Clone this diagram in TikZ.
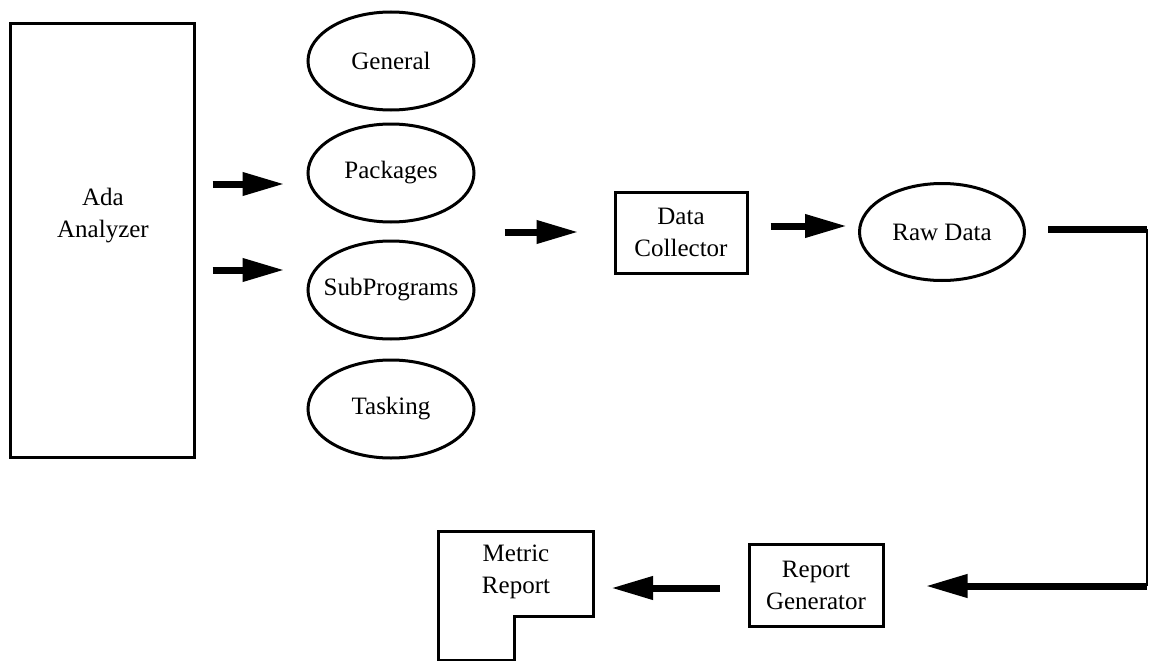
\documentclass[tikz,border=0pt]{standalone}
\usepackage{fontspec}
\setmainfont{Liberation Serif}
\usetikzlibrary{shapes.geometric,arrows.meta}
\begin{document}
\begin{tikzpicture}[x=1pt,y=-1pt,
  every node/.style={font=\fontsize{25}{32}\selectfont, align=center},
  boxnode/.style={draw, line width=3pt, inner sep=0pt},
  ell/.style={draw, ellipse, line width=3pt, inner ysep=0pt, inner xsep=-14pt, minimum width=166pt, minimum height=98pt},
  bigarrow/.style={line width=7pt, -{Triangle[length=42pt,width=22pt]}},
  thickline/.style={line width=7pt},
  thinline/.style={line width=2pt}]
\useasboundingbox (0,0) rectangle (1151,661);

% Ada Analyzer
\node[boxnode, minimum width=184pt, minimum height=433pt] (ada) at (102,240.5) {};
\node (adatxt) at (103,216) {Ada\\Analyzer};

% ellipses
\node[ell] (gen) at (391,61) {General};
\node[ell] (pack) at (391,173) {Packages};
\node[ell] (sub) at (391,290) {SubPrograms};
\node[ell] (task) at (391,409) {Tasking};

% Data Collector
\node[boxnode, minimum width=132pt, minimum height=81pt] (dc) at (681,232.5) {Data\\Collector};

% Raw Data
\node[ell, minimum width=165pt, minimum height=97pt] (raw) at (942,232) {Raw Data};

% Report Generator
\node[boxnode, minimum width=134pt, minimum height=82pt] (rg) at (816,585) {Report\\Generator};

% Metric Report
\draw[line width=3pt, line join=miter] (438,531) -- (593,531) -- (593,616) -- (514,616) -- (514,660) -- (438,660) -- cycle;
\node (mr) at (516,572) {Metric\\Report};
\coordinate (mrE) at (593,588);

% helper coordinates
\coordinate (a1) at (0,184);
\coordinate (a2) at (0,270);
\coordinate (a3) at (0,232);
\coordinate (a4) at (0,226);
\coordinate (c1) at (1147,229);
\coordinate (c2) at (1147,586);

% arrows
\draw[bigarrow, shorten <=17pt, shorten >=22pt] (ada.east |- a1) -- (pack.west |- a1);
\draw[bigarrow, shorten <=17pt, shorten >=22pt] (ada.east |- a2) -- (sub.west |- a2);
\draw[bigarrow, shorten <=29pt, shorten >=35pt] (sub.east |- a3) -- (dc.west |- a3);
\draw[bigarrow, shorten <=22pt, shorten >=11pt] (dc.east |- a4) -- (raw.west |- a4);
\draw[thickline, shorten <=22pt] (raw.east |- c1) -- (c1);
\draw[thinline] (c1) -- (c2);
\draw[bigarrow, shorten >=41pt] (c2) -- (rg.east |- c2);
\draw[bigarrow, shorten <=28pt, shorten >=18pt] (rg.west |- mrE) -- (mrE);
\end{tikzpicture}
\end{document}
